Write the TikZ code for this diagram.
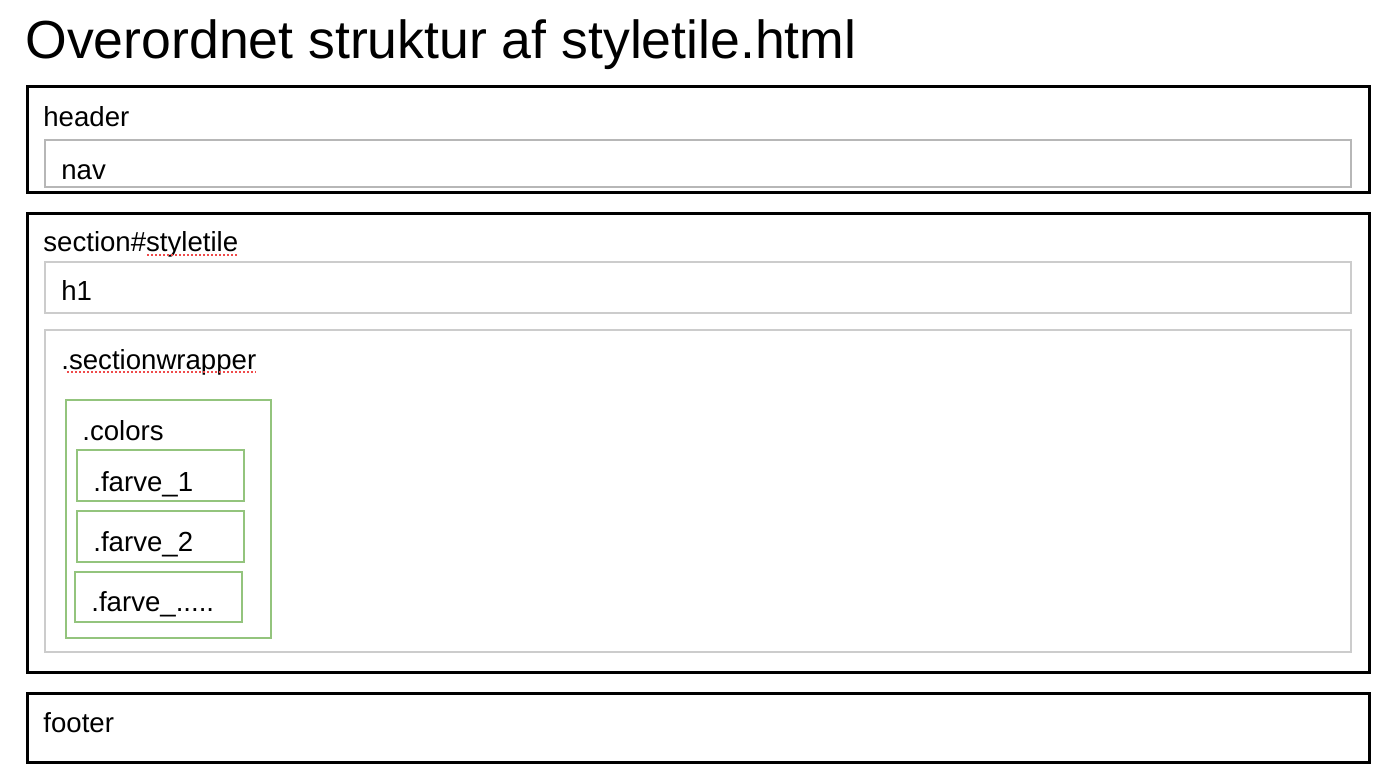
\documentclass[tikz,border=0pt]{standalone}
\usepackage{fontspec}
\setmainfont{Liberation Sans}
\definecolor{navgray}{HTML}{B7B7B7}
\definecolor{boxgray}{HTML}{CCCCCC}
\definecolor{boxgreen}{HTML}{93C47D}
\definecolor{spellred}{HTML}{EF4B4B}
\begin{document}
\begin{tikzpicture}[x=0.5pt, y=-0.5pt,
    outerbox/.style={draw=black, line width=1.5pt},
    navbox/.style={draw=navgray, line width=1.25pt},
    innerbox/.style={draw=boxgray, line width=1.25pt},
    greenbox/.style={draw=boxgreen, line width=1.25pt},
    lbl/.style={anchor=base west, inner sep=0pt, font=\fontsize{13.8}{16}\selectfont},
    squiggle/.style={spellred, line width=1pt, dash pattern=on 1pt off 1pt}]
    \useasboundingbox[fill=white] (0,0) rectangle (1398,772);

    % Title
    \node[anchor=base west, inner sep=0pt, font=\fontsize{26.8}{30}\selectfont] (title) at (25,58) {Overordnet struktur af styletile.html};

    % header
    \draw[outerbox] (27,86) rectangle (1369,192);
    \node[lbl] (header) at (43,126) {header};
    \draw[navbox] (45,140) rectangle (1351,187);
    \node[lbl] (nav) at (61,179) {nav};

    % section#styletile
    \draw[outerbox] (27,213) rectangle (1369,672);
    \node[lbl] (section) at (43,251) {section\#styletile};
    \draw[squiggle] (147,255) -- (238,255);
    \draw[innerbox] (45,262) rectangle (1351,313);
    \node[lbl] (hone) at (61,300) {h1};
    \draw[innerbox] (45,330) rectangle (1351,652);
    \node[lbl] (wrapper) at (61,369) {.sectionwrapper};
    \draw[squiggle] (67,372) -- (256,372);

    % .colors
    \draw[greenbox] (66,400) rectangle (271,638);
    \node[lbl] (colors) at (82,440) {.colors};
    \draw[greenbox] (77,450) rectangle (244,501);
    \node[lbl] (farveone) at (93,491) {.farve\_1};
    \draw[greenbox] (77,511) rectangle (244,562);
    \node[lbl] (farvetwo) at (93,551) {.farve\_2};
    \draw[greenbox] (75,572) rectangle (242,622);
    \node[lbl] (farvedots) at (91,611) {.farve\_.....};

    % footer
    \draw[outerbox] (27,693) rectangle (1369,762);
    \node[lbl] (footer) at (43,732) {footer};
\end{tikzpicture}
\end{document}
